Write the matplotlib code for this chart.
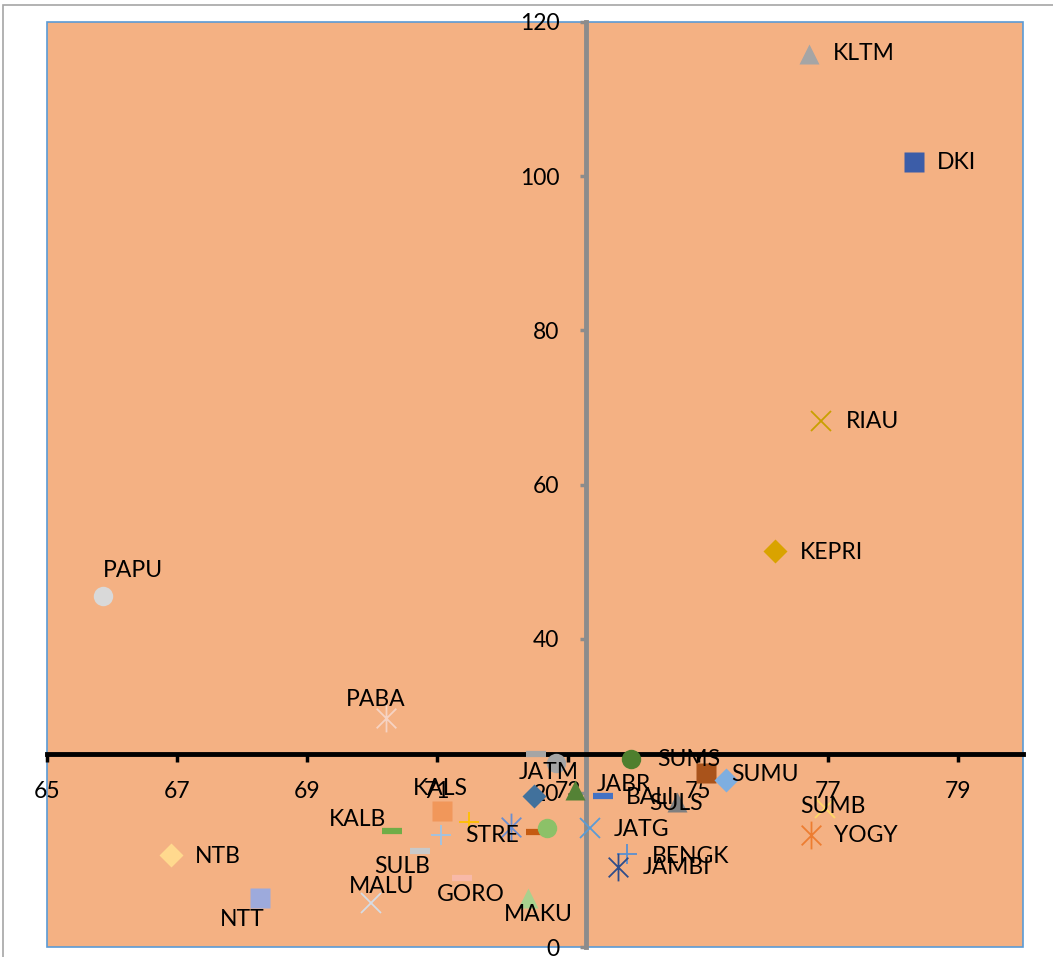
import matplotlib
matplotlib.use("Agg")
import matplotlib.pyplot as plt
from matplotlib.path import Path
from matplotlib.patches import Rectangle

# province labels (blank = point without a visible label)
provinces = ["KLTM", "DKI", "RIAU", "KEPRI", "PAPU", "PABA", "SUMS", "",
             "SUMU", "SUMB", "YOGY", "JATG", "BENGK", "JAMBI", "JABR", "BALI",
             "SULS", "JATM", "", "", "", "", "KALS", "KALB", "STRE", "", "",
             "SULB", "MALU", "GORO", "MAKU", "NTB", "NTT"]
hdi = [76.71, 78.32, 76.89, 76.19, 65.86, 70.21, 73.98, 75.13,
       75.44, 76.96, 76.74, 73.35, 73.92, 73.77, 73.11, 73.55,
       74.69, 72.82, 72.51, 72.49, 72.51, 72.69, 71.07, 70.30, 71.05, 71.48, 72.13,
       70.73, 69.98, 71.38, 72.40, 66.90, 68.28]
grdp = [115.85, 101.84, 68.24, 51.37, 45.54, 29.71, 24.39, 22.57,
        21.67, 18.04, 14.53, 15.44, 12.07, 10.38, 20.37, 19.59,
        18.81, 23.87, 25.04, 19.59, 14.92, 15.44, 17.64, 15.05, 14.53, 16.22, 15.57,
        12.45, 5.71, 8.95, 6.36, 11.94, 6.36]

x_cross = 73.28
y_cross = 25

# Excel-like asterisk: x plus vertical stroke
s = 0.7071
asterisk = Path([(0, -1), (0, 1), (-s, -s), (s, s), (-s, s), (s, -s)],
                [Path.MOVETO, Path.LINETO] * 3)

markers = ["^", "s", "x", "D", "o", asterisk, "o", "s",
           "D", "x", asterisk, "x", "+", asterisk, "^", "_",
           "^", "o", "_", "D", "_", "o", "s", "_", "+", "+", asterisk,
           "_", "x", "_", "^", "D", "s"]
colors = ["#A5A5A5", "#3C5DA8", "#C9A000", "#D9A300", "#D9D9D9", "#F6D3C3", "#4E7F2E", "#A9531B",
          "#7EAEE0", "#FFD966", "#ED7D31", "#5B9BD5", "#5B8FD0", "#2F4D8A", "#548235", "#4472C4",
          "#7F7F7F", "#A5A5A5", "#A5A5A5", "#41719C", "#C55A11", "#8CC168", "#F1975A", "#70AD47",
          "#9DC3E6", "#FFC000", "#698ED0",
          "#C9C9C9", "#D6DCE4", "#F8B9A8", "#A9D18E", "#FFD98E", "#9DAADC"]
# label offsets from the marker, pixels (right, up)
offsets = [(55, 0), (43, -1), (52, -1), (56, -1), (30, 25), (-10, 18), (57, -1), (0, 0),
           (39, 5), (8, 1), (55, -1), (51, -2), (63, -3), (59, -1), (49, 5), (47, -2),
           (-1, -1), (-7, -9), (0, 0), (0, 0), (0, 0), (0, 0), (-2, 23), (-34, 11),
           (51, -1), (0, 0), (0, 0),
           (-18, -15), (11, 16), (9, -16), (10, -17), (47, -2), (-18, -22)]

plt.rcParams["font.family"] = ["Lato", "DejaVu Sans"]

fig = plt.figure(figsize=(10.53, 9.57), dpi=100)
ax = fig.add_axes([47 / 1053, 10 / 957, 976 / 1053, 925 / 957])
ax.set_facecolor("#F4B183")

for x, y, m, c in zip(hdi, grdp, markers, colors):
    if isinstance(m, Path):
        ax.plot(x, y, marker=m, ms=20, mew=1.3, color=c, ls="none", zorder=3)
    elif m in ("x", "+"):
        ax.plot(x, y, marker=m, ms=14, mew=1.3, color=c, ls="none", zorder=3)
    elif m == "_":
        ax.plot(x, y, marker=m, ms=14, mew=4.5, color=c, ls="none", zorder=3)
    elif m == "D":
        ax.plot(x, y, marker=m, ms=12, color=c, mec="none", ls="none", zorder=3)
    else:
        ax.plot(x, y, marker=m, ms=14, color=c, mec="none", ls="none", zorder=3)

for name, x, y, (dx, dy) in zip(provinces, hdi, grdp, offsets):
    if name:
        ax.annotate(name, (x, y), xytext=(dx * 0.72, dy * 0.72), textcoords="offset points",
                    ha="center", va="center", fontsize=16.5, color="black", zorder=4)

ax.set_xlim(65, 80)
ax.set_ylim(0, 120)
ax.set_xticks(range(65, 80, 2))
ax.set_yticks(range(0, 121, 20))

ax.spines["left"].set_position(("data", x_cross))
ax.spines["bottom"].set_position(("data", y_cross))
ax.spines["left"].set_color("#8C8C8C")
ax.spines["left"].set_linewidth(3.5)
ax.spines["bottom"].set_color("black")
ax.spines["bottom"].set_linewidth(3.5)
ax.spines["left"].set_zorder(2)
ax.spines["bottom"].set_zorder(2)
ax.spines["top"].set_visible(False)
ax.spines["right"].set_visible(False)

ax.tick_params(axis="x", direction="out", length=6, width=2.5, color="black",
               pad=13, labelsize=16.5)
ax.tick_params(axis="y", direction="out", length=4, width=2.5, color="#8C8C8C",
               pad=15, labelsize=16.5)

# plot area border
ax.add_patch(Rectangle((0, 0), 1, 1, transform=ax.transAxes, fill=False,
                       edgecolor="#5B9BD5", linewidth=1.2, zorder=1, clip_on=False))
# chart area border
fig.patches.append(Rectangle((3 / 1053, -0.02), 1.1, 1.02 - 5 / 957,
                             transform=fig.transFigure, fill=False,
                             edgecolor="#A6A6A6", linewidth=1.2))

fig.savefig("out.png", dpi=100)
